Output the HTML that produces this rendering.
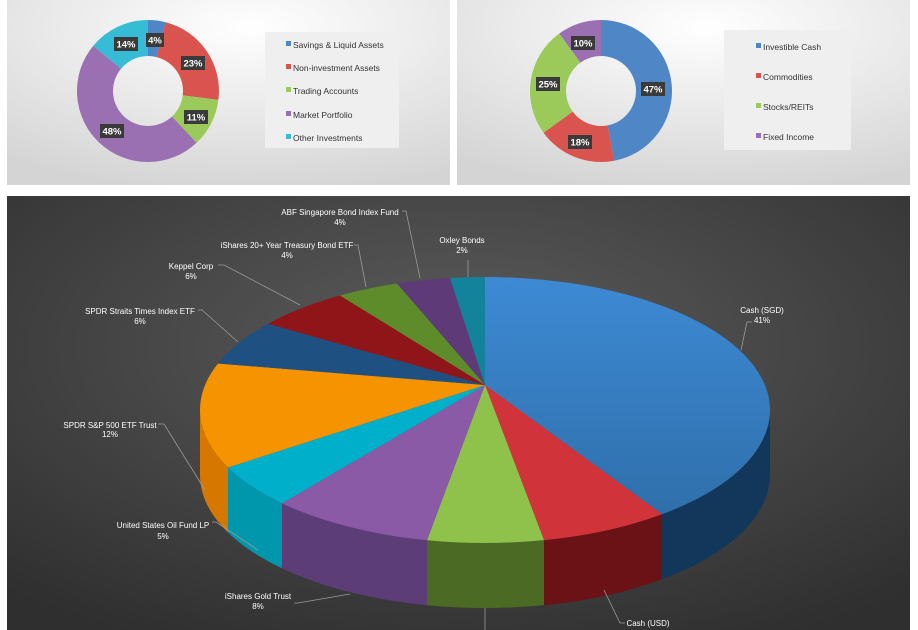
<!DOCTYPE html>
<html><head><meta charset="utf-8"><style>
html,body{margin:0;padding:0;background:#fff;width:918px;height:630px;overflow:hidden}
svg{display:block}
.t{font-family:"Liberation Sans",sans-serif}
</style></head><body>
<svg id="s" width="918" height="630" viewBox="0 0 918 630" xmlns="http://www.w3.org/2000/svg">
<defs>
<radialGradient id="pg" cx="0.55" cy="0.15" r="0.9"><stop offset="0" stop-color="#ffffff"/><stop offset="1" stop-color="#d4d4d4"/></radialGradient>
<radialGradient id="dg" cx="0.5" cy="0.35" r="0.75"><stop offset="0" stop-color="#5c5c5c"/><stop offset="1" stop-color="#2f2f2f"/></radialGradient>
<linearGradient id="bl" x1="0" y1="0" x2="0" y2="1"><stop offset="0" stop-color="#3d8ad4"/><stop offset="1" stop-color="#2f6fab"/></linearGradient>
</defs>
<rect x="7" y="0" width="443" height="185" fill="url(#pg)"/>
<rect x="457" y="0" width="453" height="185" fill="url(#pg)"/>
<rect x="7" y="196" width="903" height="434" fill="url(#dg)"/>
<g id="d1"></g><g id="d2"></g>
<rect x="265" y="32" width="134" height="116" fill="#efefef"/>
<rect x="724" y="30" width="127" height="120" fill="#efefef"/>
<g class="t" font-size="8.5" fill="#333">
<rect x="286" y="41" width="5" height="5" fill="#4f86c6"/><text x="293" y="48">Savings &amp; Liquid Assets</text>
<rect x="286" y="64" width="5" height="5" fill="#d9534f"/><text x="293" y="71">Non-investment Assets</text>
<rect x="286" y="87" width="5" height="5" fill="#9bc95a"/><text x="293" y="94">Trading Accounts</text>
<rect x="286" y="111" width="5" height="5" fill="#9b70b3"/><text x="293" y="118">Market Portfolio</text>
<rect x="286" y="134" width="5" height="5" fill="#36bcd4"/><text x="293" y="141">Other Investments</text>
<rect x="756" y="43" width="5" height="5" fill="#4f86c6"/><text x="763" y="50">Investible Cash</text>
<rect x="756" y="73" width="5" height="5" fill="#d9534f"/><text x="763" y="80">Commodities</text>
<rect x="756" y="103" width="5" height="5" fill="#9bc95a"/><text x="763" y="110">Stocks/REITs</text>
<rect x="756" y="133" width="5" height="5" fill="#9b70b3"/><text x="763" y="140">Fixed Income</text>
</g>
<g id="pie"></g>
<g class="t" font-size="8" fill="#fff" text-anchor="middle">
<text x="340" y="215">ABF Singapore Bond Index Fund</text><text x="340" y="225">4%</text>
<text x="287" y="248">iShares 20+ Year Treasury Bond ETF</text><text x="287" y="258">4%</text>
<text x="191" y="269">Keppel Corp</text><text x="191" y="279">6%</text>
<text x="140" y="314">SPDR Straits Times Index ETF</text><text x="140" y="324">6%</text>
<text x="110" y="428">SPDR S&amp;P 500 ETF Trust</text><text x="110" y="437">12%</text>
<text x="163" y="528">United States Oil Fund LP</text><text x="163" y="539">5%</text>
<text x="258" y="599">iShares Gold Trust</text><text x="258" y="609">8%</text>
<text x="462" y="243">Oxley Bonds</text><text x="462" y="253">2%</text>
<text x="762" y="313">Cash (SGD)</text><text x="762" y="323">41%</text>
<text x="648" y="626">Cash (USD)</text>
</g>
<g stroke="#9a9a9a" stroke-width="0.8" fill="none">
<polyline points="402,211 406,211 420,278"/>
<polyline points="354,245 358,245 366,287"/>
<polyline points="218,265 224,265 300,305"/>
<polyline points="198,310 202,310 238,342"/>
<polyline points="158,424 164,424 205,490"/>
<polyline points="212,522 216,522 258,550"/>
<polyline points="294,603 298,603 350,594"/>
<polyline points="468,260 468,277"/>
<polyline points="752,322 747,322 741,350"/>
<polyline points="625,623 620,623 604,590"/>
<polyline points="485,608 485,630"/>
</g>
</svg>
<script>
var NS="http://www.w3.org/2000/svg";
function el(p,tag,a){var e=document.createElementNS(NS,tag);for(var k in a)e.setAttribute(k,a[k]);p.appendChild(e);return e;}
function donut(g,cx,cy,R,r,fr,cols,labs){
 var c=0,G=document.getElementById(g);
 for(var i=0;i<fr.length;i++){
  var a0=c*2*Math.PI,a1=(c+fr[i])*2*Math.PI;c+=fr[i];
  var L=(a1-a0)>Math.PI?1:0;
  function P(rr,a){return (cx+rr*Math.sin(a)).toFixed(2)+","+(cy-rr*Math.cos(a)).toFixed(2);}
  el(G,"path",{d:"M"+P(R,a0)+"A"+R+","+R+" 0 "+L+" 1 "+P(R,a1)+"L"+P(r,a1)+"A"+r+","+r+" 0 "+L+" 0 "+P(r,a0)+"Z",fill:cols[i]});
 }
 for(var j=0;j<labs.length;j++){var l=labs[j];
  var w=l[2].length*6+6;
  el(G,"rect",{x:l[0]-w/2,y:l[1]-7,width:w,height:14,fill:"#3a3a3a"});
  var t=el(G,"text",{x:l[0],y:l[1]+3.5,"font-size":"9.5","font-weight":"bold",fill:"#fff","text-anchor":"middle","font-family":"Liberation Sans,sans-serif"});t.textContent=l[2];}
}
donut("d1",148,91,71,35,[.04,.23,.11,.48,.14],["#4f86c6","#d9534f","#9bc95a","#9b70b3","#36bcd4"],
 [[155,40,"4%"],[193,63,"23%"],[196,117,"11%"],[112,131,"48%"],[126,44,"14%"]]);
donut("d2",601,91,71,35,[.47,.18,.25,.10],["#4f86c6","#d9534f","#9bc95a","#9b70b3"],
 [[653,89,"47%"],[580,142,"18%"],[548,84,"25%"],[583,43,"10%"]]);
var cx=485,cy=410,rx=285,ry=133,ax=485,ay=385,D=65;
function Y(x,top){var d=(x-cx)/rx;var v=ry*Math.sqrt(Math.max(0,1-d*d));return top?cy-v:cy+v;}
var pts=[[485,1],[662,0],[544,0],[427,0],[282,0],[228,0],[218,1],[268,1],[340,1],[397,1],[450,1],[485,1]];
var cols=["url(#bl)","#d0343a","#8fc24a","#8a5aa6","#00afc9","#f59300","#1f5082","#8f1518","#5e8c2a","#5e3a78","#12839a"];
var side=["#13375a","#6a1215","#4b6a24","#5c3d78","#0097ad","#d67800"];
var G=document.getElementById("pie");
var sp=[[770,410],[662,Y(662,0)],[544,Y(544,0)],[427,Y(427,0)],[282,Y(282,0)],[228,Y(228,0)],[200,410]];
for(var i=0;i<6;i++){var p=sp[i],q=sp[i+1];
 el(G,"path",{d:"M"+p[0]+","+p[1]+"A"+rx+","+ry+" 0 0 1 "+q[0]+","+q[1]+"L"+q[0]+","+(q[1]+D)+"A"+rx+","+ry+" 0 0 0 "+p[0]+","+(p[1]+D)+"Z",fill:side[i]});}
for(var i=0;i<11;i++){var p=pts[i],q=pts[i+1];
 var py=Y(p[0],p[1]),qy=Y(q[0],q[1]);
 el(G,"path",{d:"M"+ax+","+ay+"L"+p[0]+","+py+"A"+rx+","+ry+" 0 0 1 "+q[0]+","+qy+"Z",fill:cols[i]});}
</script>
</body></html>
